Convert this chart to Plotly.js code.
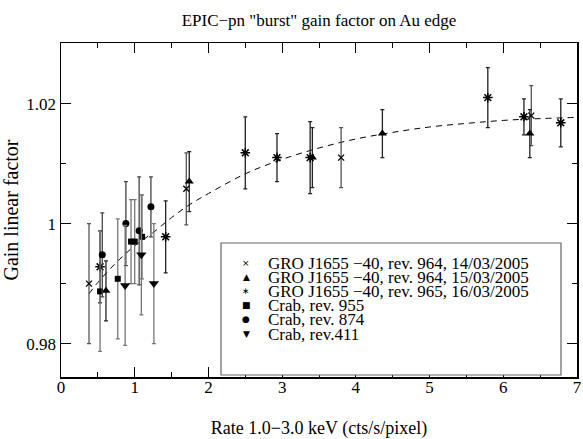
<!DOCTYPE html>
<html><head><meta charset="utf-8">
<script src="https://cdn.plot.ly/plotly-3.0.1.min.js"></script>
<style>html,body{margin:0;padding:0;background:#fff}#plot{width:583px;height:439px}</style>
</head><body><div id="plot"></div>
<script>
// GRO J1655-40, rev. 964, 14/03/2005 (x)
const groA_x = [0.38, 1.70, 3.80, 6.38];
const groA_y = [0.990, 1.0058, 1.011, 1.018];
const groA_e = [0.010, 0.006, 0.005, 0.005];
// GRO J1655-40, rev. 964, 15/03/2005 (triangle up)
const groB_x = [0.61, 1.74, 3.41, 4.36, 6.36];
const groB_y = [0.9888, 1.007, 1.011, 1.015, 1.015];
const groB_e = [0.005, 0.005, 0.005, 0.004, 0.004];
// GRO J1655-40, rev. 965, 16/03/2005 (asterisk)
const groC_x = [0.53, 1.42, 2.50, 2.93, 3.38, 5.79, 6.28, 6.78];
const groC_y = [0.9928, 0.9978, 1.0118, 1.011, 1.011, 1.021, 1.0178, 1.0168];
const groC_e = [0.006, 0.006, 0.006, 0.004, 0.006, 0.005, 0.003, 0.004];
// Crab, rev. 955 (square)
const crab955_x = [0.53, 0.77, 0.95, 1.00, 1.10];
const crab955_y = [0.9887, 0.9908, 0.997, 0.997, 0.9978];
const crab955_e = [0.010, 0.010, 0.007, 0.007, 0.007];
// Crab, rev. 874 (circle)
const crab874_x = [0.56, 0.88, 1.06, 1.22];
const crab874_y = [0.9948, 1.000, 0.9988, 1.0028];
const crab874_e = [0.007, 0.007, 0.009, 0.005];
// Crab, rev.411 (triangle down)
const crab411_x = [0.87, 1.09, 1.26];
const crab411_y = [0.9897, 0.9948, 0.990];
const crab411_e = [0.010, 0.010, 0.010];
// dashed fit curve
const fit_x = [0.38, 0.5, 0.75, 1.0, 1.25, 1.5, 1.75, 2.0, 2.5, 3.0, 3.5, 4.0, 4.5, 5.0, 5.5, 6.0, 6.5, 7.0];
const fit_y = [0.9883, 0.9902, 0.9935, 0.9963, 0.9985, 1.0010, 1.0032, 1.0050, 1.0083, 1.0107, 1.0126, 1.0141, 1.0152, 1.0161, 1.0167, 1.0172, 1.0175, 1.0177];

// axis ticks
const xTicks = [0, 1, 2, 3, 4, 5, 6, 7];
const xTickText = ['0', '1', '2', '3', '4', '5', '6', '7'];
const xMinor = [0.5, 1.5, 2.5, 3.5, 4.5, 5.5, 6.5];
const yTicks = [0.98, 1, 1.02];
const yTickText = ['0.98', '1', '1.02'];
const yMinor = [0.99, 1.01];

const legendLabels = [
  "GRO J1655 \u221240, rev. 964, 14/03/2005",
  "GRO J1655 \u221240, rev. 964, 15/03/2005",
  "GRO J1655 \u221240, rev. 965, 16/03/2005",
  "Crab, rev. 955",
  "Crab, rev. 874",
  "Crab, rev.411"
];
const legendSymbols = ["\u00d7", "\u25b2", "\u2217", "\u25a0", "\u25cf", "\u25bc"];

const serif = "Liberation Serif, Times New Roman, serif";
const XR = [0, 7], YR = [0.97443, 1.0301];

function pts(x, y, e, sym, size, col, ecol, lw) {
  return {
    x: x, y: y, type: 'scatter', mode: 'markers', showlegend: false,
    marker: {symbol: sym, size: size, color: col, line: {color: col, width: lw}},
    error_y: {type: 'data', array: e, visible: true, color: ecol, thickness: 1.3, width: 2}
  };
}

const traces = [
  {x: fit_x, y: fit_y, type: 'scatter', mode: 'lines', showlegend: false,
   line: {color: '#000', width: 1, dash: '6px,5px', shape: 'spline'}},
  pts(groA_x, groA_y, groA_e, 'x-thin-open', 6, '#000', '#555', 1.3),
  pts(groB_x, groB_y, groB_e, 'triangle-up', 8, '#000', '#222', 0),
  pts(groC_x, groC_y, groC_e, 'asterisk-open', 8, '#000', '#222', 1.5),
  pts(crab955_x, crab955_y, crab955_e, 'square', 6, '#000', '#777', 0),
  pts(crab874_x, crab874_y, crab874_e, 'circle', 7, '#000', '#444', 0),
  pts(crab411_x, crab411_y, crab411_e, 'triangle-down', 9, '#000', '#777', 0),
  // invisible carrier for the x tick-label axis
  {x: fit_x, y: fit_y, xaxis: 'x2', yaxis: 'y', type: 'scatter', mode: 'markers', showlegend: false,
   marker: {opacity: 0}, hoverinfo: 'skip'}
];

const L = 61, R = 577, T = 43, B = 377;
const px = v => (v - L) / (R - L);
const py = v => (B - v) / (B - T);
const rows = [263, 277, 291, 305, 319, 334];

const annotations = [];
rows.forEach((r, i) => {
  annotations.push({xref: 'paper', yref: 'paper', x: px(246), y: py(r), xanchor: 'center', yanchor: 'middle',
    text: legendSymbols[i], showarrow: false, font: {family: 'DejaVu Sans', size: 9, color: '#000'}});
  annotations.push({xref: 'paper', yref: 'paper', x: px(266), y: py(r), xanchor: 'left', yanchor: 'middle',
    text: legendLabels[i], showarrow: false, font: {family: serif, size: 17, color: '#000'}});
});

const axisCommon = {
  showgrid: false, zeroline: false, showline: true, linecolor: '#000', linewidth: 1.5,
  mirror: 'ticks', ticks: 'inside', ticklen: 10, tickwidth: 1, tickcolor: '#000'
};

const layout = {
  width: 583, height: 439,
  margin: {l: L, r: 583 - R, t: T, b: 439 - B},
  paper_bgcolor: '#fff', plot_bgcolor: '#fff',
  title: {text: 'EPIC\u2212pn "burst" gain factor on Au edge', xref: 'paper', x: 0.5, xanchor: 'center',
    y: 1 - 20/439, yanchor: 'middle',
    font: {family: serif, size: 17, color: '#000'}},
  xaxis: Object.assign({}, axisCommon, {
    range: XR, tickvals: xTicks, showticklabels: false,
    minor: {tickvals: xMinor, ticks: 'inside', ticklen: 5, tickcolor: '#000', tickwidth: 1},
    title: {text: 'Rate 1.0\u22123.0 keV (cts/s/pixel)', standoff: 46, font: {family: serif, size: 18, color: '#000'}}
  }),
  yaxis: Object.assign({}, axisCommon, {
    range: YR, tickvals: yTicks, ticktext: yTickText,
    tickfont: {family: serif, size: 17, color: '#000'},
    minor: {tickvals: yMinor, ticks: 'inside', ticklen: 5, tickcolor: '#000', tickwidth: 1},
    title: {text: 'Gain linear factor', standoff: 10, font: {family: serif, size: 20, color: '#000'}}
  }),
  xaxis2: {overlaying: 'x', side: 'bottom', anchor: 'free', position: 2/334,
    showgrid: false, zeroline: false, showline: false, ticks: '',
    tickfont: {family: serif, size: 17, color: '#000'},
    range: XR, tickvals: xTicks, ticktext: xTickText},
  shapes: [{type: 'rect', xref: 'paper', yref: 'paper', x0: px(221), x1: px(561), y0: py(375), y1: py(243),
    line: {color: '#666', width: 1.2}, fillcolor: 'rgba(255,255,255,1)', layer: 'above'}],
  annotations: annotations
};

Plotly.newPlot('plot', traces, layout, {displayModeBar: false, staticPlot: true});
</script></body></html>
